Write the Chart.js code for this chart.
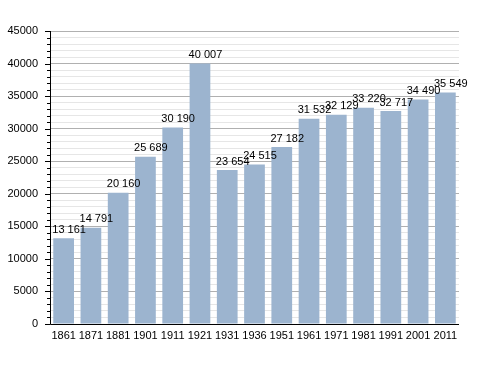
<!DOCTYPE html>
<html><head><meta charset="utf-8">
<script src="https://cdn.jsdelivr.net/npm/chart.js@4/dist/chart.umd.min.js"></script>
<style>html,body{margin:0;padding:0;background:#fff}#w{width:488px;height:373px}</style>
</head><body><div id="w"><canvas id="c"></canvas></div>
<script>
const years = ["1861","1871","1881","1901","1911","1921","1931","1936","1951","1961","1971","1981","1991","2001","2011"];
const population = [13161,14791,20160,25689,30190,40007,23654,24515,27182,31532,32129,33220,32717,34490,35549];
const yTicks = [0,5000,10000,15000,20000,25000,30000,35000,40000,45000];

const fmt = v => String(v).replace(/\B(?=(\d{3})+(?!\d))/g, ' ');
const FONT = '"Liberation Sans", Arial, sans-serif';

const labelPlugin = {
  id: 'vlabels',
  afterDatasetsDraw(chart) {
    const ctx = chart.ctx;
    const meta = chart.getDatasetMeta(0);
    ctx.save();
    ctx.font = '11px ' + FONT;
    ctx.fillStyle = '#000';
    ctx.textAlign = 'left';
    ctx.textBaseline = 'bottom';
    meta.data.forEach((bar, i) => {
      ctx.fillText(fmt(population[i]), bar.x - bar.width / 2 - 1, bar.y - 3);
    });
    ctx.restore();
  }
};

const axisPlugin = {
  id: 'axes',
  afterDraw(chart) {
    const ctx = chart.ctx, a = chart.chartArea, y = chart.scales.y;
    ctx.save();
    ctx.strokeStyle = '#000';
    ctx.lineWidth = 1;
    ctx.beginPath();
    ctx.moveTo(a.left + 0.5, a.top);
    ctx.lineTo(a.left + 0.5, a.bottom + 0.5);
    ctx.lineTo(a.right, a.bottom + 0.5);
    ctx.stroke();
    for (let v = 0; v <= 45000; v += 1000) {
      const py = Math.round(y.getPixelForValue(v)) + 0.5;
      const len = v % 5000 === 0 ? 5 : 3;
      ctx.beginPath();
      ctx.moveTo(a.left - len, py);
      ctx.lineTo(a.left, py);
      ctx.stroke();
    }
    ctx.restore();
  }
};

new Chart(document.getElementById('c'), {
  type: 'bar',
  data: {
    labels: years,
    datasets: [{
      data: population,
      backgroundColor: '#9cb4cf',
      borderWidth: 0,
      barPercentage: 0.76,
      categoryPercentage: 1
    }]
  },
  options: {
    responsive: true,
    maintainAspectRatio: false,
    animation: false,
    layout: { padding: { top: 31, right: 29, left: 0, bottom: 0 } },
    plugins: { legend: { display: false }, tooltip: { enabled: false } },
    scales: {
      x: {
        grid: { display: false, drawTicks: false },
        border: { display: false },
        ticks: { color: '#000', font: { family: FONT, size: 11 }, padding: 5, maxRotation: 0, autoSkip: false },
        afterFit(s) { s.height = 49; }
      },
      y: {
        min: 0, max: 45000,
        afterBuildTicks(s) {
          const t = [];
          for (let v = 0; v <= 45000; v += 1000) t.push({ value: v });
          s.ticks = t;
        },
        grid: {
          drawTicks: false,
          color: c => (c.tick && c.tick.value % 5000 === 0) ? '#b0b0b0' : '#e6e6e6',
          lineWidth: 1
        },
        border: { display: false },
        ticks: {
          color: '#000',
          font: { family: FONT, size: 11 },
          padding: 12,
          autoSkip: false,
          callback: v => (yTicks.includes(v) ? String(v) : '')
        },
        afterFit(s) { s.width = 50; }
      }
    }
  },
  plugins: [labelPlugin, axisPlugin]
});
</script>
</body></html>
